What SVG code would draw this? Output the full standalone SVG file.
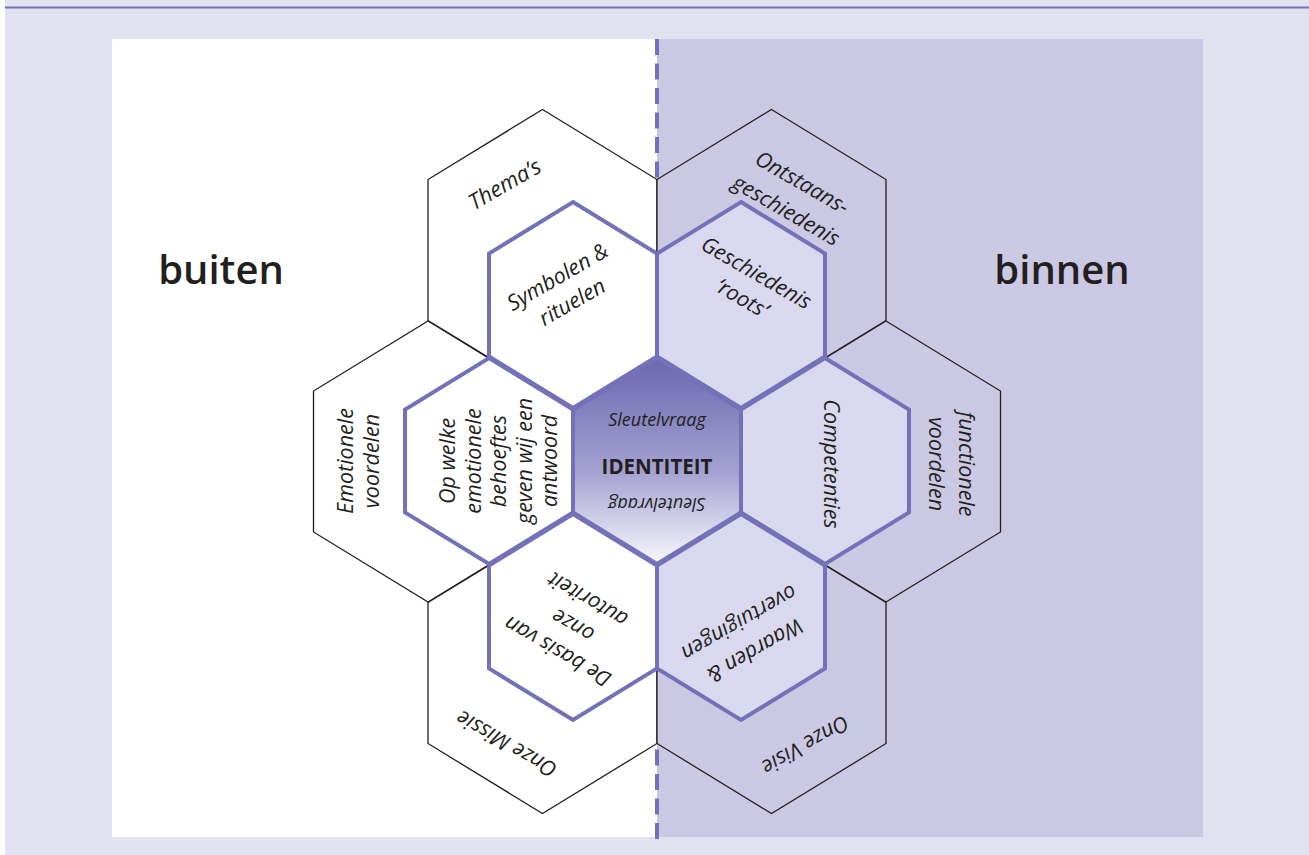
<svg xmlns="http://www.w3.org/2000/svg" width="1309" height="855" viewBox="0 0 1309 855">
<defs>
<linearGradient id="gc" x1="0" y1="0" x2="0" y2="1">
<stop offset="0" stop-color="#6b67b0"/>
<stop offset="0.55" stop-color="#a4a1d1"/>
<stop offset="1" stop-color="#f8f8fc"/>
</linearGradient>
<style>
.outer{stroke:#231f20;stroke-width:1.3;stroke-linejoin:miter}
.ol{fill:#ffffff}
.or{fill:#cbc8e4}
.inner{stroke:#7471b8;stroke-width:4;stroke-linejoin:miter}
.il{fill:#ffffff}
.ir{fill:#dad8ee}
.lbl{font-family:"Open Sans","Noto Sans","Liberation Sans",sans-serif;font-style:italic;font-size:21.5px;fill:#231f20;text-anchor:middle;dominant-baseline:central}
.key{font-family:"Open Sans","Noto Sans","Liberation Sans",sans-serif;font-style:italic;font-size:18px;fill:#231f20;text-anchor:middle;dominant-baseline:central}
.id{font-family:"Open Sans","Noto Sans","Liberation Sans",sans-serif;font-style:normal;font-weight:bold;font-size:20.5px;fill:#231f20;text-anchor:middle;dominant-baseline:central}
.big{font-family:"Open Sans","Noto Sans","Liberation Sans",sans-serif;font-weight:600;font-size:40px;fill:#231f20;text-anchor:middle;dominant-baseline:central}
</style>
</defs>
<rect x="0" y="0" width="1309" height="855" fill="#ffffff"/>
<rect x="5" y="0" width="1304" height="855" fill="#e2e1f0"/>
<line x1="5" y1="7.5" x2="1309" y2="7.5" stroke="#7471b8" stroke-width="2"/>
<rect x="112" y="39" width="545" height="798" fill="#ffffff"/>
<rect x="657" y="39" width="546" height="798" fill="#cbc8e4"/>
<line x1="657" y1="39" x2="657" y2="843" stroke="#7471b8" stroke-width="4" stroke-dasharray="16 8.5"/>

<g id="label-buiten"><text class="big" x="221" y="268">buiten</text></g>
<g id="label-binnen"><text class="big" x="1062" y="268">binnen</text></g>

<g id="connectors"></g>

<g id="node-themas">
<polygon class="outer ol" points="542.5,109.5 657,179.5 657,320.5 542.5,390.5 428,320.5 428,179.5"/>
<text class="lbl" style="font-size:22px" transform="translate(504,183) rotate(-30)">Thema’s</text>
</g>
<g id="node-ontstaansgeschiedenis">
<polygon class="outer or" points="771.5,109.5 886,179.5 886,320.5 771.5,390.5 657,320.5 657,179.5"/>
<text class="lbl" transform="translate(795,195) rotate(30)"><tspan x="0" y="-16">Ontstaans-</tspan><tspan x="0" y="16">geschiedenis</tspan></text>
</g>
<g id="node-emotionele-voordelen">
<polygon class="outer ol" points="428,321 542.5,391 542.5,532 428,602 313.5,532 313.5,391"/>
<text class="lbl" transform="translate(357,461) rotate(-90)"><tspan x="0" y="-13">Emotionele</tspan><tspan x="0" y="13">voordelen</tspan></text>
</g>
<g id="node-functionele-voordelen">
<polygon class="outer or" points="886,321 1000.5,391 1000.5,532 886,602 771.5,532 771.5,391"/>
<text class="lbl" transform="translate(953,464) rotate(90)"><tspan x="0" y="-15">functionele</tspan><tspan x="0" y="15">voordelen</tspan></text>
</g>
<g id="node-onze-missie">
<polygon class="outer ol" points="542.5,532.5 657,602.5 657,743.5 542.5,813.5 428,743.5 428,602.5"/>
<text class="lbl" transform="translate(506,745) rotate(210)">Onze Missie</text>
</g>
<g id="node-onze-visie">
<polygon class="outer or" points="771.5,532.5 886,602.5 886,743.5 771.5,813.5 657,743.5 657,602.5"/>
<text class="lbl" transform="translate(806,746) rotate(150)">Onze Visie</text>
</g>

<g id="node-symbolen">
<polygon class="inner il" points="573,202 657,253.5 657,356.5 573,408 489,356.5 489,253.5"/>
<text class="lbl" transform="translate(564,288) rotate(-30)"><tspan x="0" y="-14.5">Symbolen &amp;</tspan><tspan x="0" y="14.5">rituelen</tspan></text>
</g>
<g id="node-geschiedenis">
<polygon class="inner ir" points="741,202 825,253.5 825,356.5 741,408 657,356.5 657,253.5"/>
<text class="lbl" transform="translate(750,284) rotate(30)"><tspan x="0" y="-14.5">Geschiedenis</tspan><tspan x="0" y="14.5">‘roots’</tspan></text>
</g>
<g id="node-op-welke">
<polygon class="inner il" points="489,358 573,409.5 573,512.5 489,564 405,512.5 405,409.5"/>
<text class="lbl" transform="translate(497,461) rotate(-90)"><tspan x="0" y="-51">Op welke</tspan><tspan x="0" y="-25.5">emotionele</tspan><tspan x="0" y="0">behoeftes</tspan><tspan x="0" y="25.5">geven wij een</tspan><tspan x="0" y="51">antwoord</tspan></text>
</g>
<g id="node-competenties">
<polygon class="inner ir" points="825,358 909,409.5 909,512.5 825,564 741,512.5 741,409.5"/>
<text class="lbl" transform="translate(832,464) rotate(90)">Competenties</text>
</g>
<g id="node-de-basis">
<polygon class="inner il" points="573,514 657,565.5 657,668.5 573,720 489,668.5 489,565.5"/>
<text class="lbl" transform="translate(572,627) rotate(210)"><tspan x="0" y="-30">De basis van</tspan><tspan x="0" y="0">onze</tspan><tspan x="0" y="30">autoriteit</tspan></text>
</g>
<g id="node-waarden">
<polygon class="inner ir" points="741,514 825,565.5 825,668.5 741,720 657,668.5 657,565.5"/>
<text class="lbl" transform="translate(748,638) rotate(150)"><tspan x="0" y="-16">Waarden &amp;</tspan><tspan x="0" y="16">overtuigingen</tspan></text>
</g>
<g id="node-identiteit">
<polygon class="inner" fill="url(#gc)" points="657,358 741,409.5 741,512.5 657,564 573,512.5 573,409.5"/>
<text class="key" x="657" y="419">Sleutelvraag</text>
<text class="id" x="657" y="466">IDENTITEIT</text>
<text class="key" transform="translate(657,505) rotate(180)">Sleutelvraag</text>
</g>
</svg>
